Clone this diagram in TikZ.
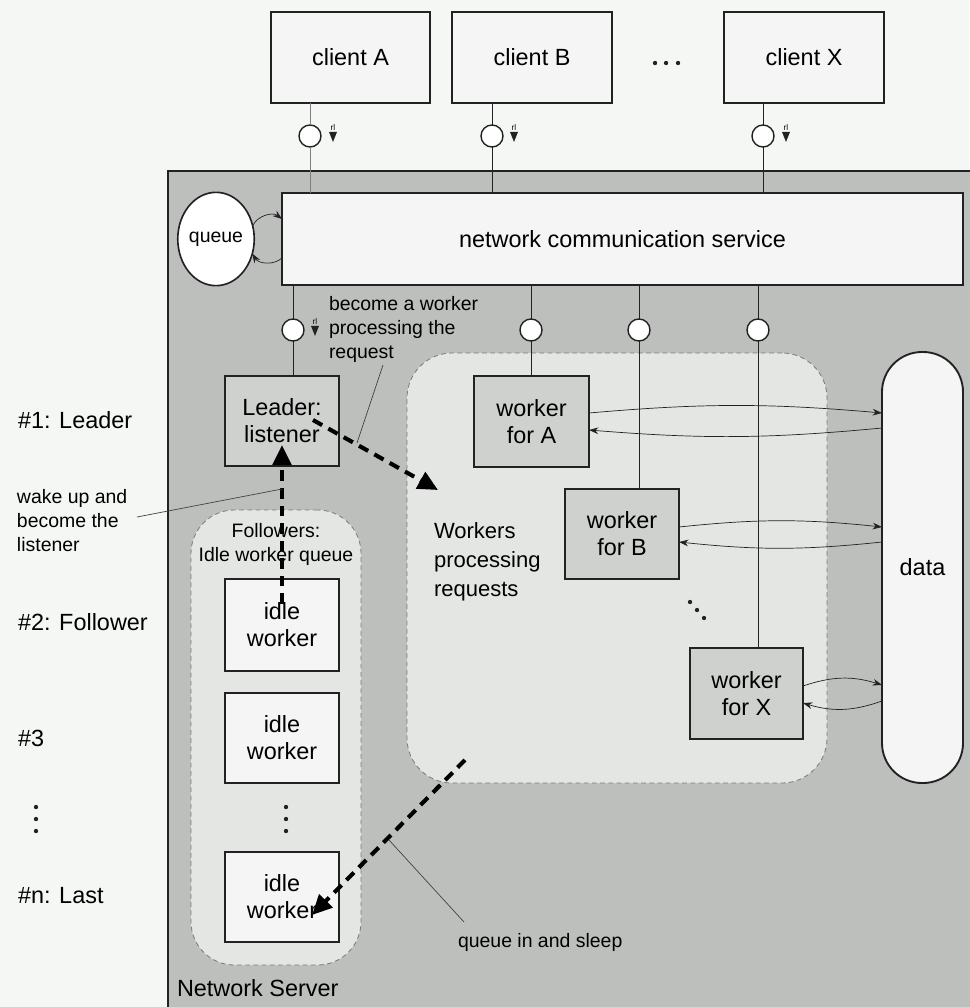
\documentclass[tikz,border=0pt]{standalone}
\usepackage{fontspec}
\setmainfont{Liberation Sans}
\usetikzlibrary{arrows.meta,shapes.geometric}

\definecolor{paper}{HTML}{F5F7F5}
\definecolor{server}{HTML}{BDBFBD}
\definecolor{regc}{HTML}{E4E6E4}
\definecolor{dashc}{HTML}{7A7C7A}
\definecolor{boxg}{HTML}{CFD1CF}
\definecolor{lite}{HTML}{F4F5F4}
\definecolor{ink}{HTML}{222222}

\newcommand\fMain{\fontsize{20}{23}\selectfont}
\newcommand\fSmall{\fontsize{16.6}{20.5}\selectfont}
\newcommand\fMid{\fontsize{18.8}{24.7}\selectfont}
\newcommand\fTiny{\fontsize{7}{7}\selectfont}

% box given by its corners in pixel units: name, style, x1, y1, x2, y2, text
\newcommand\pxbox[7]{%
  \node[#2, minimum width={(#5-#3)*0.03cm}, minimum height={(#6-#4)*0.03cm}]
    (#1) at ({(#3+#5)/2},{(#4+#6)/2}) {#7};}

\begin{document}
\begin{tikzpicture}[x=0.03cm,y=-0.03cm,
  every node/.style={inner sep=0pt, outer sep=0pt},
  plain/.style={draw=ink, line width=1.6pt, fill=lite, align=center, font=\fMain},
  darkbox/.style={plain, fill=boxg},
  region/.style={draw=dashc, dash pattern=on 4pt off 3pt, line width=0.7pt, fill=regc},
  lolli/.style={circle, draw=ink, line width=1.2pt, fill=white, minimum size=0.66cm},
  conn/.style={draw=ink, line width=0.6pt},
  bigarrow/.style={draw=black, line width=3.5pt, dash pattern=on 9pt off 6pt,
    -{Triangle[length=0.6cm,width=0.55cm]}},
  dataflow/.style={draw=ink, line width=0.6pt, -{Stealth[length=0.28cm,width=0.2cm]}},
  callout/.style={draw=ink!85, line width=0.6pt},
  label/.style={font=\fMain, anchor=west, align=left},
  note/.style={font=\fSmall, anchor=west, align=left},
  sig/.style={font=\fTiny},
  dot/.style={circle, fill=ink, minimum size=0.13cm},
]
\useasboundingbox (0,0) rectangle (969,1007);
\fill[paper] (0,0) rectangle (969,1007);

% server area
\fill[server] (168,171) rectangle (975,1012);
\draw[ink, line width=1.6pt] (168,1012) -- (168,171) -- (975,171);

% dashed groupings
\pxbox{wreg}{region, rounded corners=1.35cm}{407}{353}{827}{783}{}
\pxbox{freg}{region, rounded corners=1.3cm}{191}{510}{361}{965}{}

% clients and the communication service
\pxbox{cA}{plain}{271}{12}{430}{103}{client A}
\pxbox{cB}{plain}{452}{12}{612}{103}{client B}
\pxbox{cX}{plain}{724}{12}{884}{103}{client X}
\node[dot] (d1) at (655,63) {};
\node[dot] (d2) at (666,63) {};
\node[dot] (d3) at (678,63) {};

\pxbox{ncs}{plain}{282}{193}{963}{285}{network communication service}
\node[ellipse, draw=ink, line width=1.4pt, fill=white, font=\fSmall,
  minimum width=2.22cm, minimum height=2.8cm] (queue) at (216,239) {queue};

% queue hand-over
\draw[dataflow] (queue.20) to[bend left=50] (ncs.west |- 0,219);
\draw[dataflow] (ncs.west |- 0,258) to[bend left=50] (queue.-22);

% client lollipops
\node[lolli] (lpA) at (310,136) {};
\node[lolli] (lpB) at (492,136) {};
\node[lolli] (lpX) at (763,136) {};
\draw[conn, draw=gray] (cA.south -| lpA) -- (lpA.north);
\draw[conn, draw=gray] (lpA.south) -- (ncs.north -| lpA);
\draw[conn] (cB.south -| lpB) -- (lpB.north);
\draw[conn] (lpB.south) -- (ncs.north -| lpB);
\draw[conn] (cX.south -| lpX) -- (lpX.north);
\draw[conn] (lpX.south) -- (ncs.north -| lpX);

% boxes inside the server
\pxbox{lead}{darkbox}{225}{376}{339}{466}{Leader:\\listener}
\pxbox{wA}{darkbox}{474}{376}{589}{467}{worker\\for A}
\pxbox{wB}{darkbox}{565}{489}{679}{579}{worker\\for B}
\pxbox{wX}{darkbox}{690}{648}{803}{739}{worker\\for X}
\pxbox{iw1}{plain}{225}{579}{339}{671}{idle\\worker}
\pxbox{iw2}{plain}{225}{693}{339}{783}{idle\\worker}
\pxbox{iwn}{plain}{225}{852}{339}{942}{idle\\worker}
\node[plain, rounded corners=1.2cm, minimum width=2.43cm, minimum height=12.93cm]
  (data) at (922.5,567.5) {data};

% service lollipops
\node[lolli] (lpL) at (293,330) {};
\node[lolli] (lpWA) at (531,330) {};
\node[lolli] (lpWB) at (639,330) {};
\node[lolli] (lpWX) at (758,330) {};
\draw[conn] (ncs.south -| lpL) -- (lpL.north);
\draw[conn] (lpL.south) -- (lead.north -| lpL);
\draw[conn] (ncs.south -| lpWA) -- (lpWA.north);
\draw[conn] (lpWA.south) -- (wA.north -| lpWA);
\draw[conn] (ncs.south -| lpWB) -- (lpWB.north);
\draw[conn] (lpWB.south) -- (wB.north -| lpWB);
\draw[conn] (ncs.south -| lpWX) -- (lpWX.north);
\draw[conn] (lpWX.south) -- (wX.north -| lpWX);

% small markers beside the lollipops
\foreach \n/\x/\y in {sA/333/128, sB/514/128, sX/786/128, sL/315/322} {
  \node[sig] (\n) at (\x,\y) {rl};
  \fill[ink] (\n.south) ++(-4,1) -- ++(8,0) -- ++(-4,10) -- cycle;
}

% data access
\draw[dataflow] (wA.east |- 0,413) to[bend left=5] (data.west |- 0,413);
\draw[dataflow] (data.west |- 0,428) to[bend left=5] (wA.east |- 0,430);
\draw[dataflow] (wB.east |- 0,527) to[bend left=6] (data.west |- 0,527);
\draw[dataflow] (data.west |- 0,542) to[bend left=6] (wB.east |- 0,542);
\draw[dataflow] (wX.east |- 0,686) to[bend left=18] (data.west |- 0,685);
\draw[dataflow] (data.west |- 0,701) to[bend left=18] (wX.east |- 0,703);

% ellipsis among the workers and the idle workers
\node[dot] (e1) at (690,602) {};
\node[dot] (e2) at (697,610) {};
\node[dot] (e3) at (704,618) {};
\node[dot] (f1) at (286,807) {};
\node[dot] (f2) at (286,819) {};
\node[dot] (f3) at (286,831) {};

% role changes
\coordinate (wakeS) at (282,604);
\coordinate (wakeT) at (282,445);
\coordinate (becS) at (313,420);
\coordinate (becT) at (438,490);
\coordinate (sleepS) at (465,760);
\coordinate (sleepT) at (312,915);
\draw[bigarrow] (wakeS) -- (wakeT);
\draw[bigarrow] (becS) -- (becT);
\draw[bigarrow] (sleepS) -- (sleepT);

% texts
\node[font=\fSmall, align=center] (folt) at (276,544) {Followers:\\Idle worker queue};
\node[font=\fMid, anchor=west, align=left] (wpr) at (434,562) {Workers\\processing\\requests};
\node[label] (srvname) at (177,988) {Network Server};

\node[label] (r1) at (18,420) {\#1: Leader};
\node[label] (r2) at (18,622) {\#2: Follower};
\node[label] (r3) at (18,738) {\#3};
\node[dot] (g1) at (36,807) {};
\node[dot] (g2) at (36,819) {};
\node[dot] (g3) at (36,831) {};
\node[label] (rn) at (18,896) {\#n: Last};

\node[note] (wake) at (17,521) {wake up and\\become the\\listener};
\coordinate (wakeP) at (137,517);
\coordinate (wakeQ) at (282,489);
\draw[callout] (wakeP) -- (wakeQ);

\node[note] (bec) at (329,329) {become a worker\\processing the\\request};
\coordinate (becP) at (383,365);
\coordinate (becQ) at (357,443);
\draw[callout] (becP) -- (becQ);

\node[note] (sleep) at (458,942) {queue in and sleep};
\coordinate (sleepP) at (389,840);
\coordinate (sleepQ) at (464,922);
\draw[callout] (sleepP) -- (sleepQ);
\end{tikzpicture}
\end{document}
